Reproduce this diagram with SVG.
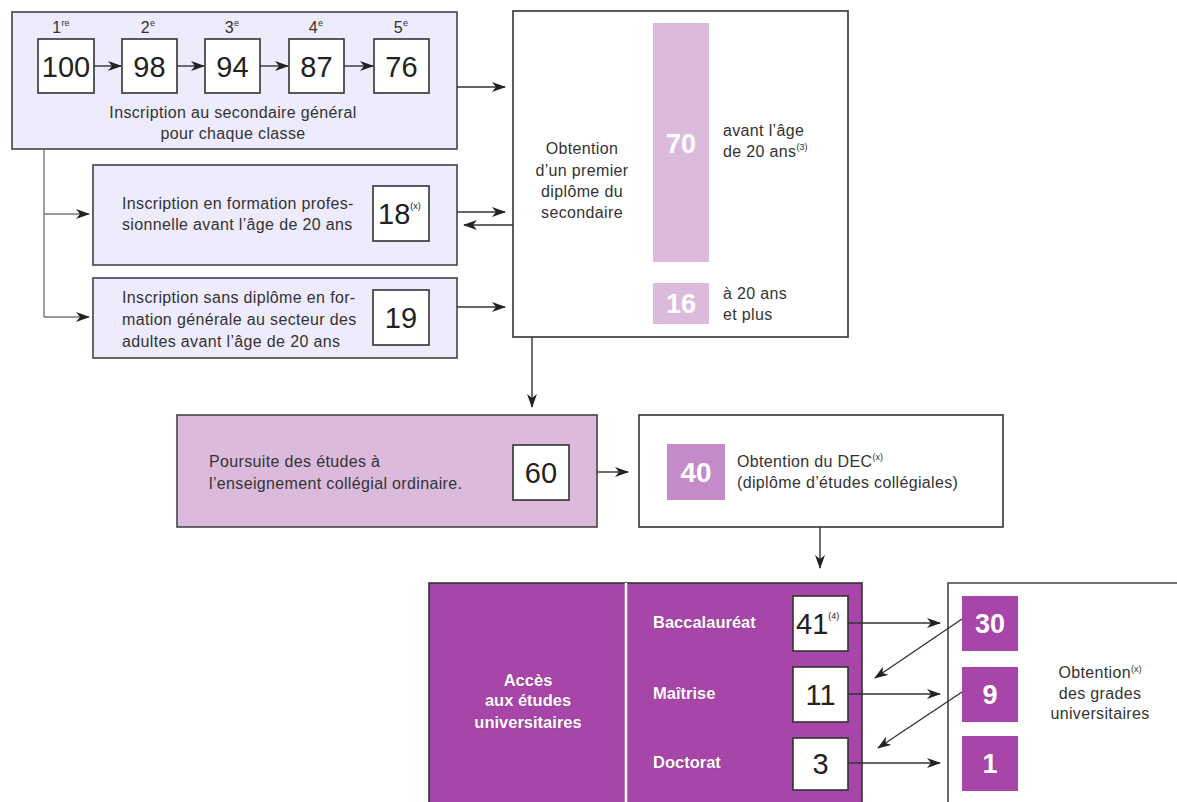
<svg xmlns="http://www.w3.org/2000/svg" width="1177" height="802" viewBox="0 0 1177 802">
<defs>
<style>
.t{font-family:"Liberation Sans",Arial,sans-serif;font-size:16px;letter-spacing:0.35px;fill:#333}
.n{font-family:"Liberation Sans",Arial,sans-serif;font-size:29px;fill:#222}
.w{font-family:"Liberation Sans",Arial,sans-serif;font-weight:bold;fill:#fff}
.wb{font-family:"Liberation Sans",Arial,sans-serif;font-weight:bold;font-size:16.5px;fill:#fff;stroke:#8a2a8a;stroke-width:0.6;paint-order:stroke}
.sup{font-size:9px;letter-spacing:0}
.box{fill:#fff;stroke:#333;stroke-width:1.6}
.lav{fill:#eeebfd;stroke:#444;stroke-width:1.6}
.ln{stroke:#333;stroke-width:1.4;fill:none}
.gl{stroke:#777;stroke-width:1.4;fill:none}
</style>
<marker id="ah" viewBox="0 0 14 10" refX="13" refY="5" markerWidth="14" markerHeight="10" markerUnits="userSpaceOnUse" orient="auto">
<path d="M0,0 L14,5 L0,10 L4,5 z" fill="#222"/>
</marker>
</defs>
<rect width="1177" height="802" fill="#fff"/>

<g id="secondaire">
<rect class="lav" x="12" y="12" width="445" height="137"/>
<text class="t" x="61" y="33" font-size="17" text-anchor="middle">1<tspan class="sup" dy="-7">re</tspan></text>
<text class="t" x="148" y="33" font-size="17" text-anchor="middle">2<tspan class="sup" dy="-7">e</tspan></text>
<text class="t" x="232" y="33" font-size="17" text-anchor="middle">3<tspan class="sup" dy="-7">e</tspan></text>
<text class="t" x="316" y="33" font-size="17" text-anchor="middle">4<tspan class="sup" dy="-7">e</tspan></text>
<text class="t" x="401" y="33" font-size="17" text-anchor="middle">5<tspan class="sup" dy="-7">e</tspan></text>
<rect class="box" x="38" y="39" width="56" height="54"/>
<rect class="box" x="122" y="39" width="55" height="54"/>
<rect class="box" x="205" y="39" width="55" height="54"/>
<rect class="box" x="289" y="39" width="55" height="54"/>
<rect class="box" x="374" y="39" width="55" height="54"/>
<text class="n" x="66" y="77" text-anchor="middle">100</text>
<text class="n" x="149.5" y="77" text-anchor="middle">98</text>
<text class="n" x="232.5" y="77" text-anchor="middle">94</text>
<text class="n" x="316.5" y="77" text-anchor="middle">87</text>
<text class="n" x="401.5" y="77" text-anchor="middle">76</text>
<text class="t" x="233" y="118" text-anchor="middle">Inscription au secondaire général</text>
<text class="t" x="233" y="139" text-anchor="middle">pour chaque classe</text>
</g>

<g id="professionnelle">
<rect class="lav" x="93" y="165" width="364" height="100"/>
<text class="t" x="122" y="209">Inscription en formation profes-</text>
<text class="t" x="122" y="230">sionnelle avant l’âge de 20 ans</text>
<rect class="box" x="373" y="186" width="56" height="55"/>
<text class="n" x="378" y="224" font-size="28">18<tspan class="sup" dy="-15">(x)</tspan></text>
</g>

<g id="adultes">
<rect class="lav" x="93" y="278" width="364" height="80"/>
<text class="t" x="122" y="303">Inscription sans diplôme en for-</text>
<text class="t" x="122" y="325">mation générale au secteur des</text>
<text class="t" x="122" y="347">adultes avant l’âge de 20 ans</text>
<rect class="box" x="373" y="290" width="56" height="55"/>
<text class="n" x="401" y="328" text-anchor="middle">19</text>
</g>

<g id="diplome-secondaire">
<rect class="box" x="513" y="11" width="335" height="326"/>
<text class="t" x="582" y="154" text-anchor="middle">Obtention</text>
<text class="t" x="582" y="176" text-anchor="middle">d’un premier</text>
<text class="t" x="582" y="197" text-anchor="middle">diplôme du</text>
<text class="t" x="582" y="218" text-anchor="middle">secondaire</text>
<rect x="653" y="23" width="56" height="239" fill="#dcbadc"/>
<text class="w" x="681" y="153" font-size="27" text-anchor="middle">70</text>
<text class="t" x="723" y="136">avant l’âge</text>
<text class="t" x="723" y="157">de 20 ans<tspan class="sup" dy="-7">(3)</tspan></text>
<rect x="653" y="283" width="56" height="41" fill="#dcbadc"/>
<text class="w" x="681" y="313" font-size="27" text-anchor="middle">16</text>
<text class="t" x="723" y="299">à 20 ans</text>
<text class="t" x="723" y="320">et plus</text>
</g>

<g id="collegial">
<rect x="177" y="415" width="420" height="112" fill="#dcbadc" stroke="#444" stroke-width="1.6"/>
<text class="t" x="209" y="467">Poursuite des études à</text>
<text class="t" x="209" y="489">l’enseignement collégial ordinaire.</text>
<rect class="box" x="513" y="445" width="56" height="55"/>
<text class="n" x="541" y="483" text-anchor="middle">60</text>
</g>

<g id="dec">
<rect class="box" x="639" y="415" width="364" height="112"/>
<rect x="667" y="444" width="58" height="56" fill="#c48ac9"/>
<text class="w" x="696" y="482" font-size="28" text-anchor="middle">40</text>
<text class="t" x="737" y="467">Obtention du DEC<tspan class="sup" dy="-7">(x)</tspan></text>
<text class="t" x="737" y="488">(diplôme d’études collégiales)</text>
</g>

<g id="universite">
<rect x="429" y="583" width="433" height="225" fill="#a845a8" stroke="#333" stroke-width="1.6"/>
<line x1="626" y1="583" x2="626" y2="802" stroke="#fff" stroke-width="2.5"/>
<text class="wb" x="528" y="686" text-anchor="middle">Accès</text>
<text class="wb" x="528" y="706" text-anchor="middle">aux études</text>
<text class="wb" x="528" y="728" text-anchor="middle">universitaires</text>
<text class="wb" x="653" y="628">Baccalauréat</text>
<text class="wb" x="653" y="699">Maîtrise</text>
<text class="wb" x="653" y="768">Doctorat</text>
<rect class="box" x="793" y="596" width="55" height="55"/>
<rect class="box" x="793" y="667" width="55" height="55"/>
<rect class="box" x="793" y="738" width="55" height="52"/>
<text class="n" x="796" y="634" font-size="28">41<tspan class="sup" dy="-15">(4)</tspan></text>
<text class="n" x="820.5" y="705" text-anchor="middle">11</text>
<text class="n" x="820.5" y="774" text-anchor="middle">3</text>
</g>

<g id="grades">
<path d="M948,808 L948,583 L1180,583" fill="#fff" stroke="#444" stroke-width="1.6"/>
<rect x="962" y="596" width="56" height="55" fill="#a845a8"/>
<rect x="962" y="667" width="56" height="55" fill="#a845a8"/>
<rect x="962" y="736" width="56" height="55" fill="#a845a8"/>
<text class="w" x="990" y="633" font-size="27" text-anchor="middle">30</text>
<text class="w" x="990" y="704" font-size="27" text-anchor="middle">9</text>
<text class="w" x="990" y="773" font-size="27" text-anchor="middle">1</text>
<text class="t" x="1100" y="678" text-anchor="middle">Obtention<tspan class="sup" dy="-6">(x)</tspan></text>
<text class="t" x="1100" y="699" text-anchor="middle">des grades</text>
<text class="t" x="1100" y="719" text-anchor="middle">universitaires</text>
</g>

<g id="connectors">
<line class="ln" x1="94" y1="66" x2="121" y2="66" marker-end="url(#ah)"/>
<line class="ln" x1="177" y1="66" x2="204" y2="66" marker-end="url(#ah)"/>
<line class="ln" x1="260" y1="66" x2="288" y2="66" marker-end="url(#ah)"/>
<line class="ln" x1="344" y1="66" x2="373" y2="66" marker-end="url(#ah)"/>
<line class="ln" x1="457" y1="87" x2="505" y2="87" marker-end="url(#ah)"/>
<path class="gl" d="M44,149 L44,317"/>
<line class="gl" x1="44" y1="214" x2="89" y2="214" marker-end="url(#ah)"/>
<line class="gl" x1="44" y1="317" x2="89" y2="317" marker-end="url(#ah)"/>
<line class="ln" x1="457" y1="212" x2="505" y2="212" marker-end="url(#ah)"/>
<line class="ln" x1="513" y1="225" x2="464" y2="225" marker-end="url(#ah)"/>
<line class="ln" x1="457" y1="307" x2="505" y2="307" marker-end="url(#ah)"/>
<line class="ln" x1="532" y1="337" x2="532" y2="407" marker-end="url(#ah)"/>
<line class="ln" x1="597" y1="472" x2="628" y2="472" marker-end="url(#ah)"/>
<line class="ln" x1="820" y1="527" x2="820" y2="568" marker-end="url(#ah)"/>
<line class="ln" x1="848" y1="623" x2="940" y2="623" marker-end="url(#ah)"/>
<line class="ln" x1="848" y1="694" x2="940" y2="694" marker-end="url(#ah)"/>
<line class="ln" x1="848" y1="763" x2="940" y2="763" marker-end="url(#ah)"/>
<line class="ln" x1="962" y1="619" x2="875" y2="678" marker-end="url(#ah)"/>
<line class="ln" x1="962" y1="692" x2="878" y2="748" marker-end="url(#ah)"/>
</g>
</svg>
